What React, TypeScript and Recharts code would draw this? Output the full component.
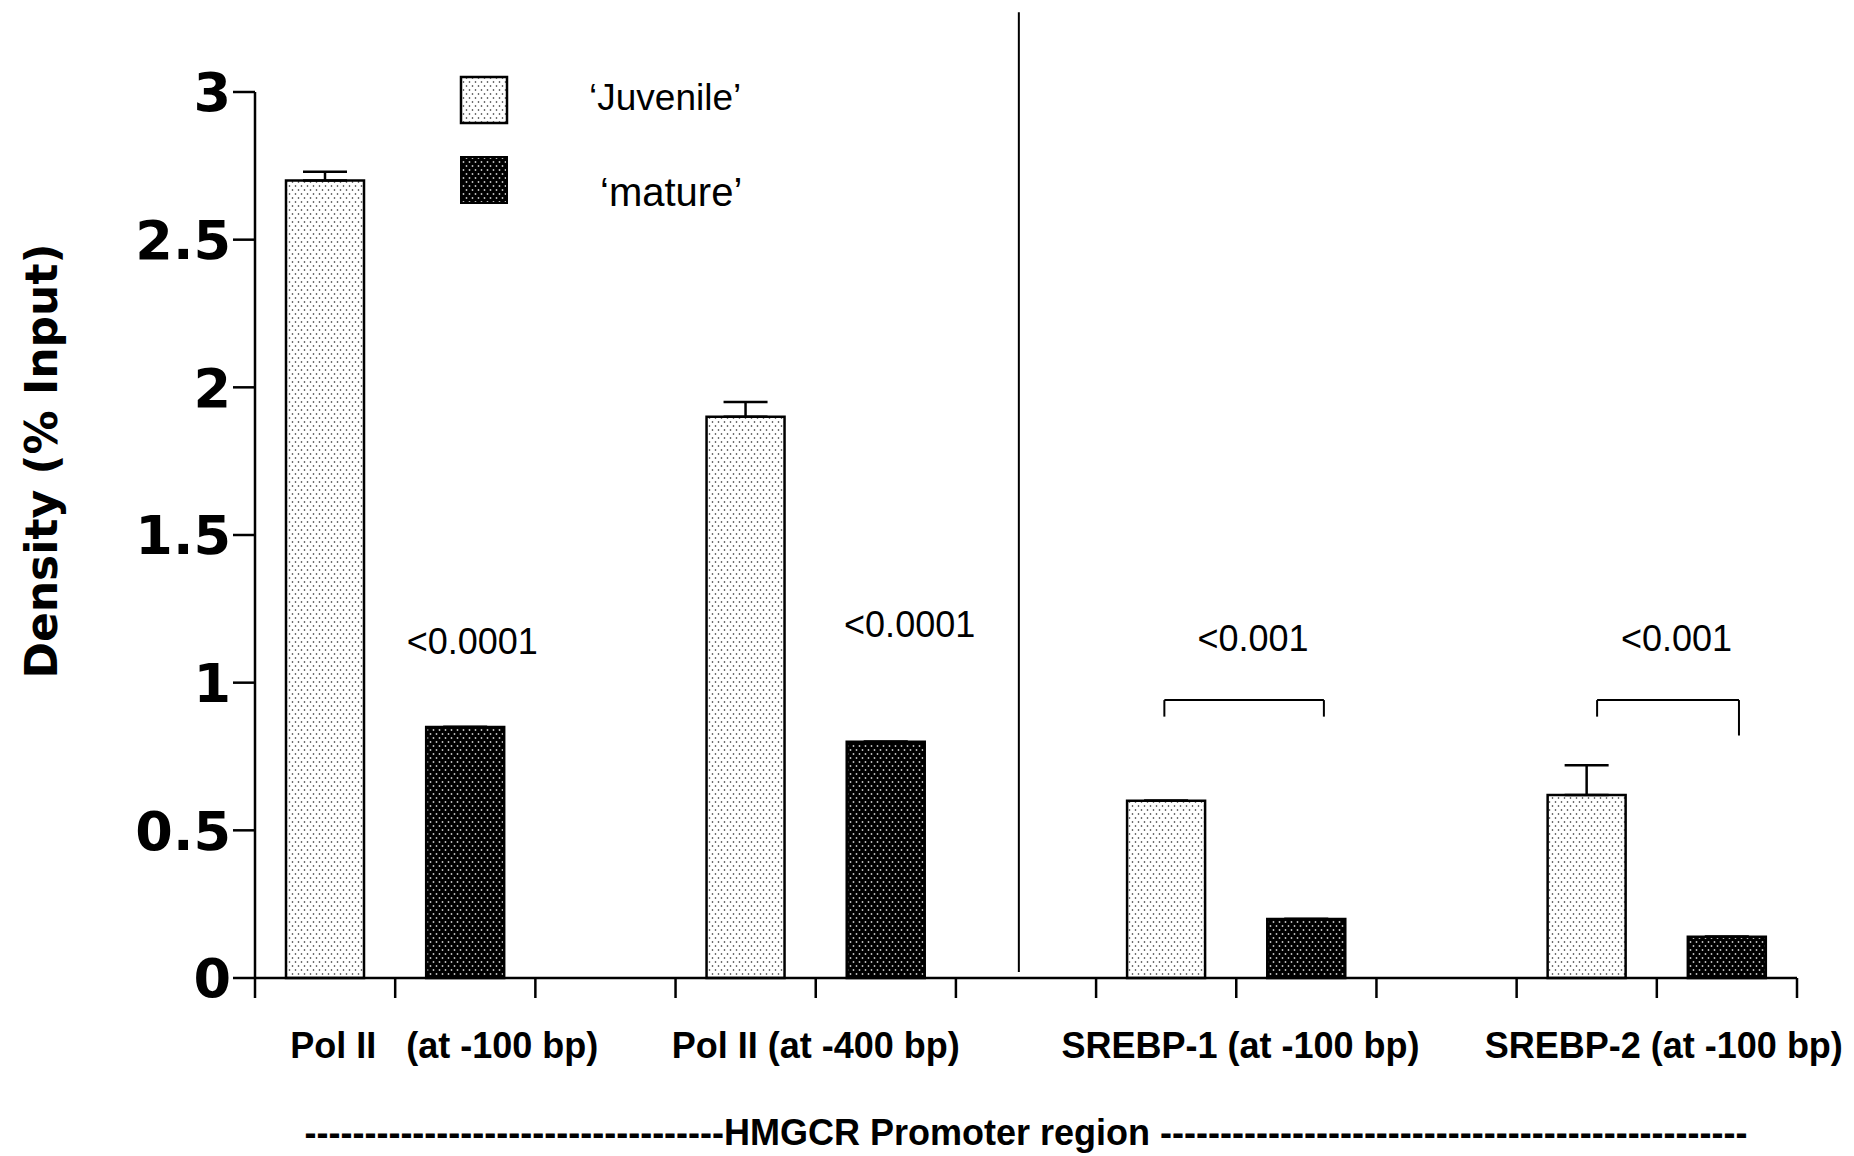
import { BarChart, Bar, XAxis, YAxis, ErrorBar, Cell, ReferenceLine, ReferenceDot, Legend } from "recharts";

const groups = [
  "Pol II\u00a0\u00a0\u00a0(at -100 bp)",
  "Pol II (at -400 bp)",
  "SREBP-1 (at -100 bp)",
  "SREBP-2 (at -100 bp)",
];
const juvenile = [2.7, 1.9, 0.6, 0.62];
const juvenileErr = [0.03, 0.05, 0, 0.1];
const mature = [0.85, 0.8, 0.2, 0.14];
const matureErr = [0, 0, 0, 0];
const seriesNames = ["\u2018Juvenile\u2019", "\u2018mature\u2019"];

// the x axis has 11 slots; each group starts at one of these
const groupSlots = [0, 3, 6, 9];
const slotTicks = [0, 1, 2, 3, 4, 5, 6, 7, 8, 9, 10, 11];
const groupLabelAt = [1.35, 4, 7.03, 10.05];
const yTicks = [0, 0.5, 1, 1.5, 2, 2.5, 3];

const pValues = ["<0.0001", "<0.0001", "<0.001", "<0.001"];
const pValueX = [1.55, 4.67, 7.12, 10.14];
const pValueY = [1.14, 1.197, 1.149, 1.149];

const brackets = [
  { x1: 6.487, x2: 7.625, top: 0.941, left: 0.885, right: 0.885 },
  { x1: 9.574, x2: 10.586, top: 0.941, left: 0.885, right: 0.821 },
];

const data = groups.flatMap((g, i) => [
  { x: groupSlots[i] + 0.5, value: juvenile[i], err: [0, juvenileErr[i]], kind: "juvenile" },
  { x: groupSlots[i] + 1.5, value: mature[i], err: [0, matureErr[i]], kind: "mature" },
]);

const BOLD = "'Liberation Sans', Arial, sans-serif";

function Patterns({ prefix }: { prefix: string }) {
  return (
    <defs>
      <pattern id={`${prefix}juv`} width="6" height="8" patternUnits="userSpaceOnUse">
        <rect width="6" height="8" fill="#fff" />
        <circle cx="1.5" cy="2" r="0.8" fill="#222" />
        <circle cx="4.5" cy="6" r="0.8" fill="#222" />
      </pattern>
      <pattern id={`${prefix}mat`} width="6" height="8" patternUnits="userSpaceOnUse">
        <rect width="6" height="8" fill="#000" />
        <circle cx="1.5" cy="2" r="0.9" fill="#c4c4c4" />
        <circle cx="4.5" cy="6" r="0.9" fill="#c4c4c4" />
      </pattern>
    </defs>
  );
}

function LegendBox() {
  return (
    <svg width={900} height={230} style={{ display: "block" }}>
      <Patterns prefix="lg-" />
      <rect x={461} y={77} width={46} height={46} fill="url(#lg-juv)" stroke="#000" strokeWidth={2.5} />
      <rect x={461} y={157} width={46} height={46} fill="url(#lg-mat)" stroke="#000" strokeWidth={2} />
      <text x={589} y={97} dy="0.35em" fontSize={37} fontFamily={BOLD} fill="#000">{seriesNames[0]}</text>
      <text x={600} y={192} dy="0.35em" fontSize={40} fontFamily={BOLD} fill="#000">{seriesNames[1]}</text>
    </svg>
  );
}

function YLabel({ viewBox }: any) {
  const cx = viewBox.x + 41;
  const cy = viewBox.y + viewBox.height / 2 - 74;
  return (
    <text
      x={cx}
      y={cy}
      transform={`rotate(-90 ${cx} ${cy})`}
      textAnchor="middle"
      dominantBaseline="central"
      fontSize={44}
      fontWeight="bold"
      fontFamily="'DejaVu Sans', sans-serif"
      fill="#000"
    >
      Density (% Input)
    </text>
  );
}

export default function App() {
  return (
    <div style={{ position: "absolute", left: 0, top: 0, background: "#fff" }}>
      <BarChart width={1854} height={1156} data={data} margin={{ top: 92, right: 57, bottom: 0, left: 0 }}>
        <Patterns prefix="" />
        <XAxis
          dataKey="x"
          type="number"
          domain={[0, 11]}
          ticks={slotTicks}
          interval={0}
          height={22}
          tickSize={20}
          tickFormatter={() => ""}
          axisLine={{ stroke: "#000", strokeWidth: 2.5 }}
          tickLine={{ stroke: "#000", strokeWidth: 2.5 }}
        />
        <XAxis
          xAxisId="groups"
          dataKey="x"
          type="number"
          domain={[0, 11]}
          ticks={groupLabelAt}
          interval={0}
          height={156}
          tickSize={30}
          axisLine={false}
          tickLine={false}
          tickFormatter={(v: number) => groups[groupLabelAt.indexOf(v)] ?? ""}
          tick={{ fontSize: 36, fontWeight: "bold", fontFamily: BOLD, fill: "#000" }}
          label={{
            value: "-----------------------------------HMGCR Promoter region -------------------------------------------------",
            position: "insideBottom",
            offset: 11,
            fontSize: 36,
            fontWeight: "bold",
            fontFamily: BOLD,
            fill: "#000",
          }}
        />
        <YAxis
          type="number"
          domain={[0, 3]}
          ticks={yTicks}
          interval={0}
          width={255}
          tickSize={22}
          tickMargin={2}
          axisLine={{ stroke: "#000", strokeWidth: 2.5 }}
          tickLine={{ stroke: "#000", strokeWidth: 2.5 }}
          tick={{ fontSize: 54, fontWeight: "bold", fontFamily: "'DejaVu Sans', sans-serif", fill: "#000" }}
          label={<YLabel />}
        />
        <Legend
          content={<LegendBox />}
          layout="vertical"
          align="center"
          verticalAlign="middle"
          wrapperStyle={{ left: 0, top: 0, width: 900, height: 230 }}
        />
        <ReferenceLine
          segment={[{ x: 5.449, y: 0.02 }, { x: 5.449, y: 3.27 }]}
          stroke="#000"
          strokeWidth={2}
          ifOverflow="visible"
        />
        {brackets.map((b, i) => (
          <ReferenceLine
            key={`bt${i}`}
            segment={[{ x: b.x1, y: b.top }, { x: b.x2, y: b.top }]}
            stroke="#000"
            strokeWidth={2}
          />
        ))}
        {brackets.map((b, i) => (
          <ReferenceLine
            key={`bl${i}`}
            segment={[{ x: b.x1, y: b.top }, { x: b.x1, y: b.left }]}
            stroke="#000"
            strokeWidth={2}
          />
        ))}
        {brackets.map((b, i) => (
          <ReferenceLine
            key={`br${i}`}
            segment={[{ x: b.x2, y: b.top }, { x: b.x2, y: b.right }]}
            stroke="#000"
            strokeWidth={2}
          />
        ))}
        {pValues.map((p, i) => (
          <ReferenceDot
            key={`p${i}`}
            x={pValueX[i]}
            y={pValueY[i]}
            r={1}
            fill="none"
            stroke="none"
            label={{ value: p, position: "center", fontSize: 36, fontFamily: BOLD, fill: "#000" }}
          />
        ))}
        <Bar dataKey="value" barSize={78} stroke="#000" strokeWidth={2.5} isAnimationActive={false} legendType="none">
          {data.map((d, i) => (
            <Cell key={i} fill={d.kind === "juvenile" ? "url(#juv)" : "url(#mat)"} />
          ))}
          <ErrorBar dataKey="err" direction="y" width={22} stroke="#000" strokeWidth={2.5} isAnimationActive={false} />
        </Bar>
      </BarChart>
    </div>
  );
}
